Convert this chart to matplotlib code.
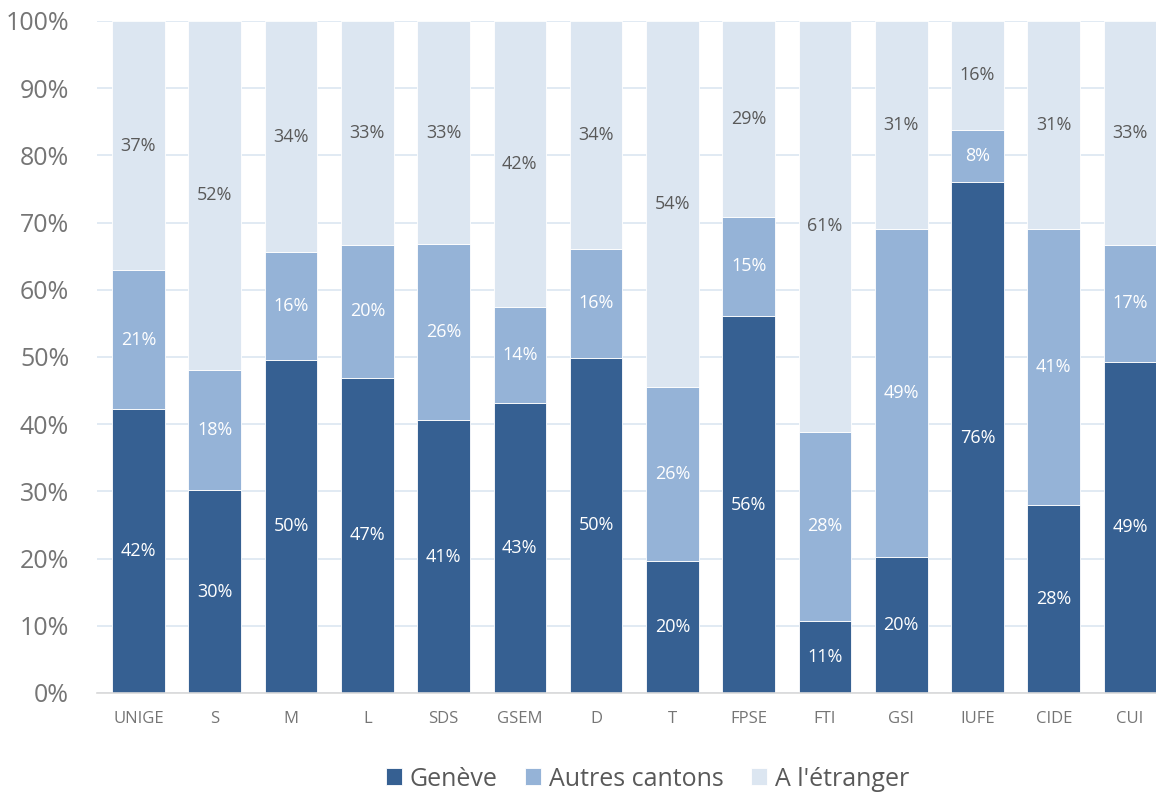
import matplotlib
matplotlib.use("Agg")
import matplotlib.pyplot as plt
import numpy as np

plt.rcParams['font.family'] = ['Open Sans', 'DejaVu Sans']

# Data (shares in %)
categories = ["UNIGE", "S", "M", "L", "SDS", "GSEM", "D", "T",
              "FPSE", "FTI", "GSI", "IUFE", "CIDE", "CUI"]
geneve = [42.3, 30.2, 49.6, 46.9, 40.6, 43.1, 49.9, 19.7,
          56.1, 10.7, 20.2, 76.0, 28.0, 49.3]
autres = [20.6, 17.9, 16.0, 19.8, 26.2, 14.4, 16.2, 25.8,
          14.8, 28.2, 48.8, 7.8, 41.0, 17.4]
etranger = [100 - g - a for g, a in zip(geneve, autres)]

series = ["Genève", "Autres cantons", "A l'étranger"]
colors = ["#366092", "#95B3D7", "#DCE6F1"]
text_colors = ["white", "white", "#595959"]

fig = plt.figure(figsize=(11.56, 7.92), dpi=100)
ax = fig.add_axes([97 / 1156, 1 - 693 / 792, 1 - 97 / 1156, (693 - 21) / 792])

x = np.arange(len(categories))
bottom = np.zeros(len(categories))
for vals, name, col, tcol in zip([geneve, autres, etranger], series, colors, text_colors):
    vals = np.array(vals)
    ax.bar(x, vals, 0.69, bottom=bottom, color=col, label=name,
           edgecolor="white", linewidth=0.6, zorder=3)
    for xi, b, v in zip(x, bottom, vals):
        ax.text(xi, b + v / 2, f"{round(v):.0f}%", ha="center", va="center",
                fontsize=13, color=tcol, zorder=4)
    bottom += vals

ax.set_xlim(-0.544, 13.34)
ax.set_ylim(0, 100)
ax.set_yticks(np.arange(0, 101, 10))
ax.set_yticklabels([f"{v}%" for v in range(0, 101, 10)], fontsize=18, color="#757575")
ax.set_xticks(x)
ax.set_xticklabels(categories, fontsize=12, color="#757575")
ax.tick_params(axis="both", length=0)
ax.tick_params(axis="x", pad=13)
ax.tick_params(axis="y", pad=20)

ax.yaxis.grid(True, color="#DCE6F1", linewidth=1.2, zorder=0)
for s in ["top", "right", "left"]:
    ax.spines[s].set_visible(False)
ax.spines["bottom"].set_color("#D9D9D9")
ax.spines["bottom"].set_linewidth(1.2)
ax.spines["bottom"].set_zorder(5)

fig.legend(loc="center", bbox_to_anchor=(0.56, 1 - 779 / 792), ncol=3,
           frameon=False, fontsize=18, handlelength=0.65, handleheight=0.65,
           handletextpad=0.3, columnspacing=1.1, labelcolor="#595959")

fig.savefig("out.png", dpi=100)
